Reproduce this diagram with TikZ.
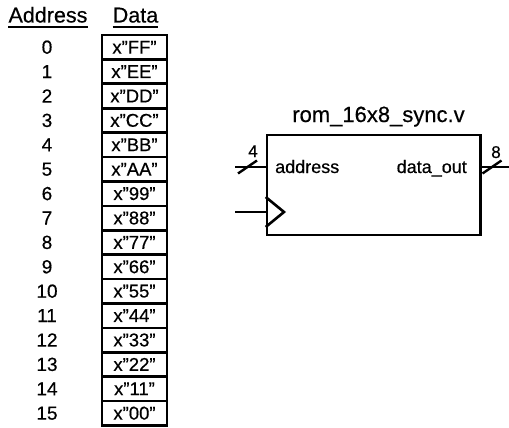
\documentclass[tikz,border=0pt]{standalone}
\usepackage{fontspec}
\setmainfont{Liberation Sans}[FakeBold=0.5]
\begin{document}
\begin{tikzpicture}[x=1pt,y=-1pt,
  hdr/.style={inner sep=0pt, anchor=base, font=\fontsize{21.5}{21.5}\selectfont},
  addr/.style={inner sep=0pt, font=\fontsize{19}{19}\selectfont},
  cell/.style={draw, line width=2.6pt, minimum width=65pt, minimum height=24.4pt, inner sep=0pt, font=\fontsize{18.5}{18.5}\selectfont},
  blk/.style={draw, line width=2.6pt, minimum width=213.5pt, minimum height=100pt, inner sep=0pt},
  wire/.style={line width=2.6pt},
  slash/.style={line width=2.4pt},
  lbl/.style={inner sep=0pt, anchor=base, font=\fontsize{18}{18}\selectfont},
  num/.style={inner sep=0pt, anchor=base, font=\fontsize{17}{17}\selectfont}
]
\useasboundingbox (0,0) rectangle (509,428);
% headers
\node[hdr] (haddr) at (48,22.5) {Address};
\node[hdr] (hdata) at (135.5,22.5) {Data};
\draw[line width=1.8pt] (haddr.base west) ++(0,4.5) coordinate (u1) -- (u1 -| haddr.base east);
\draw[line width=1.8pt] (hdata.base west) ++(0,4.5) coordinate (u2) -- (u2 -| hdata.base east);
% table
\foreach \i/\v in {0/FF,1/EE,2/DD,3/CC,4/BB,5/AA,6/99,7/88,8/77,9/66,10/55,11/44,12/33,13/22,14/11,15/00}{
  \node[cell] (c\i) at (134.5,{35+24.4*(\i+0.5)}) {x”\v”};
  \node[addr] (a\i) at (47,{35+24.4*(\i+0.5)}) {\i};
}
% block
\node[blk] (rom) at (373.75,185) {};
\node[inner sep=0pt, anchor=base, font=\fontsize{22}{22}\selectfont] (title) at (378.5,122) {rom\_16x8\_sync.v};
\node[lbl, anchor=base west] (paddr) at (275,173) {address};
\node[lbl, anchor=base east] (pdata) at (467,173) {data\_out};
% address input
\coordinate (ain) at (235,167);
\draw[wire] (ain) -- (ain -| rom.west);
\coordinate (s1) at (247.5,167);
\draw[slash] (s1) ++(-9.5,6.5) -- ++(19,-13);
\node[num] (n4) at (253,157) {4};
% data output
\coordinate (dout) at (509,167);
\draw[wire] (dout -| rom.east) -- (dout);
\coordinate (s2) at (492,167);
\draw[slash] (s2) ++(-9.5,6.5) -- ++(19,-13);
\node[num] (n8) at (496,158) {8};
% clock
\coordinate (clk) at (235,212);
\draw[wire] (clk) -- (clk -| rom.west);
\draw[wire, line join=miter] (rom.west |- 0,197) -- (284,212) -- (rom.west |- 0,227);
\end{tikzpicture}
\end{document}
